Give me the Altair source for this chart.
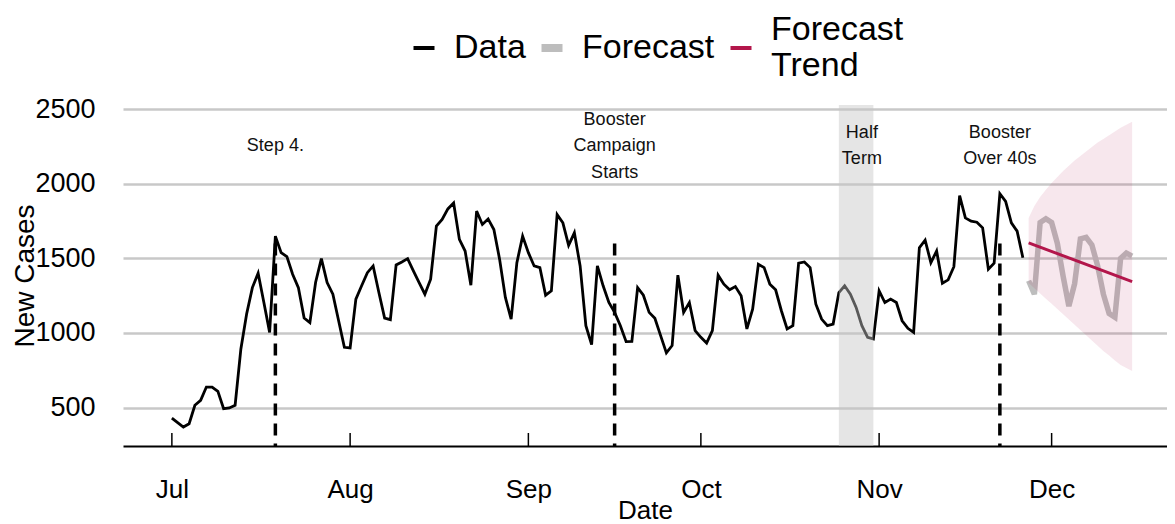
import altair as alt
import pandas as pd

# ---------------- data ----------------
data_start = "2021-07-01"
data_values = [
    430, 400, 370, 392, 516, 549, 638, 638, 609, 493,
    498, 516, 893, 1127, 1304, 1400, 1204, 1004, 1649, 1538,
    1511, 1393, 1304, 1100, 1069, 1340, 1498, 1338, 1260, 1082,
    904, 900, 1227, 1316, 1404, 1449, 1271, 1100, 1089, 1456,
    1476, 1498, 1416, 1338, 1260, 1360, 1716, 1760, 1831, 1871,
    1627, 1549, 1320, 1816, 1727, 1764, 1693, 1493, 1238, 1093,
    1471, 1649, 1538, 1449, 1438, 1253, 1282, 1793, 1738, 1587,
    1671, 1449, 1049, 922, 1449, 1316, 1204, 1138, 1049, 942,
    944, 1304, 1253, 1138, 1098, 982, 867, 916, 1387, 1138,
    1204, 1016, 971, 933, 1016, 1387, 1327, 1289, 1311, 1249,
    1027, 1160, 1460, 1438, 1327, 1289, 1149, 1027, 1049, 1467,
    1476, 1438, 1193, 1093, 1049, 1060, 1271, 1316, 1260, 1171,
    1049, 971, 960, 1282, 1204, 1227, 1204, 1082, 1031, 1004,
    1571, 1622, 1471, 1549, 1333, 1356, 1444, 1920, 1771, 1749,
    1742, 1704, 1427, 1467, 1933, 1882, 1738, 1682, 1504,
]

forecast_start = "2021-11-27"
forecast_values = [
    1350, 1260, 1740, 1765, 1740, 1600, 1380, 1180, 1330, 1630,
    1640, 1590, 1450, 1260, 1130, 1105, 1500, 1535, 1515,
]
ci_upper = [
    1770, 1850, 1910, 1960, 2005, 2045, 2085, 2120, 2155, 2185,
    2215, 2245, 2275, 2300, 2325, 2350, 2375, 2395, 2415,
]
ci_lower = [
    1335, 1300, 1265, 1230, 1195, 1160, 1125, 1090, 1055, 1020,
    985, 950, 915, 880, 850, 815, 785, 765, 745,
]

trend_dates = ["2021-11-27", "2021-12-15"]
trend_values = [1604, 1344]

event_dates = ["2021-07-19", "2021-09-16", "2021-11-22"]
event_top = [1600, 1600, 1600]

note_dates = ["2021-07-19", "2021-09-16", "2021-10-29", "2021-11-22"]
note_lines = [["Step 4."], ["Booster", "Campaign", "Starts"],
              ["Half", "Term"], ["Booster", "Over 40s"]]

half_term_start = ["2021-10-25"]
half_term_end = ["2021-10-31"]

month_ticks = ["2021-07-01", "2021-08-01", "2021-09-01",
               "2021-10-01", "2021-11-01", "2021-12-01"]
y_ticks = [500, 1000, 1500, 2000, 2500]

series_names = ["Data", "Forecast", "Forecast Trend"]
series_colors = ["#000000", "#bdbdbd", "#b3164b"]

# ---------------- tables ----------------
data_dates = pd.date_range(data_start, periods=len(data_values), freq="D").strftime("%Y-%m-%d")
fc_dates = pd.date_range(forecast_start, periods=len(forecast_values), freq="D").strftime("%Y-%m-%d")

data_df = pd.DataFrame({"date": data_dates, "value": data_values, "series": "Data"})
fc_df = pd.DataFrame({"date": fc_dates, "value": forecast_values, "series": "Forecast"})
trend_df = pd.DataFrame({"date": trend_dates, "value": trend_values, "series": "Forecast Trend"})
ci_df = pd.DataFrame({"date": fc_dates, "lo": ci_lower, "hi": ci_upper})
event_df = pd.DataFrame({"date": event_dates, "value": event_top})
note_df = pd.DataFrame({"date": note_dates, "lines": note_lines})
half_df = pd.DataFrame({"start": half_term_start, "end": half_term_end})
tick_df = pd.DataFrame({"date": month_ticks})

FONT = "Liberation Sans"
W, H = 1044, 341

x_scale = alt.Scale(
    type="utc",
    domain=[alt.DateTime(year=2021, month=6, date=22, hours=12, utc=True),
            alt.DateTime(year=2021, month=12, date=21, hours=1, minutes=34, utc=True)],
)
y_scale = alt.Scale(domain=[243, 2527], nice=False, zero=False)

x_axis = alt.Axis(
    values=[alt.DateTime(year=2021, month=m, date=1, utc=True) for m in range(7, 13)],
    format="%b", title="Date", grid=False, ticks=False, tickSize=0,
    domain=True, domainColor="black", domainWidth=2,
    labelFontSize=26, labelPadding=30, labelColor="black", labelFont=FONT,
    titleFontSize=26, titleFontWeight="normal", titleColor="black", titleFont=FONT,
    titleY=51, titleBaseline="top",
)
y_axis = alt.Axis(
    values=y_ticks, format="d", title="New Cases", grid=True, gridColor="#c8c8c8", gridWidth=2.5,
    domain=False, ticks=False, tickSize=0,
    labelFontSize=27, labelPadding=28, labelColor="black", labelFont=FONT,
    titleFontSize=28, titleFontWeight="normal", titleColor="black", titleFont=FONT,
    titleX=-90, titleBaseline="alphabetic",
)

color_scale = alt.Scale(domain=series_names, range=series_colors)
legend = alt.Legend(
    title=None, orient="none", direction="horizontal", legendX=284, legendY=-97,
    symbolType="stroke", symbolSize=441, labelFontSize=34, labelFont=FONT,
    labelColor="black", labelOffset=13, columnPadding=9, padding=0,
    labelLimit=400, clipHeight=80,
    symbolStrokeWidth={"expr": "datum.value == 'Forecast' ? 8 : 4"},
    labelBaseline={"expr": "datum.label == 'Forecast Trend' ? 'line-bottom' : 'middle'"},
    labelExpr="datum.label == 'Forecast Trend' ? ['Forecast', 'Trend'] : datum.label",
)

X = lambda f: alt.X(f, scale=x_scale)
Y = lambda f: alt.Y(f, scale=y_scale)

data_line = alt.Chart(data_df).mark_line(strokeWidth=2.8).encode(
    x=alt.X("date:T", scale=x_scale, axis=x_axis),
    y=alt.Y("value:Q", scale=y_scale, axis=y_axis),
    color=alt.Color("series:N", scale=color_scale, legend=legend),
)

fc_line = alt.Chart(fc_df).mark_line(strokeWidth=5.5).encode(
    x=X("date:T"), y=Y("value:Q"),
    color=alt.Color("series:N", scale=color_scale, legend=legend),
)

ci = alt.Chart(ci_df).mark_area(color="#b3164b", opacity=0.1).encode(
    x=X("date:T"), y=Y("lo:Q"), y2="hi:Q",
)

trend = alt.Chart(trend_df).mark_line(strokeWidth=3).encode(
    x=X("date:T"), y=Y("value:Q"),
    color=alt.Color("series:N", scale=color_scale, legend=legend),
)

half = alt.Chart(half_df).mark_rect(color="#c5c5c5", opacity=0.45).encode(
    x=X("start:T"), x2="end:T",
    y=alt.value(0), y2=alt.value(H),
)

events = alt.Chart(event_df).mark_rule(color="black", strokeWidth=3.5, strokeDash=[12, 8]).encode(
    x=X("date:T"), y=Y("value:Q"), y2=alt.value(H),
)

ticks = alt.Chart(tick_df).mark_rule(color="black", strokeWidth=1.5).encode(
    x=X("date:T"), y=alt.value(H - 13), y2=alt.value(H),
)

notes = alt.Chart(note_df).transform_calculate(
    ypix="41 - (length(datum.lines) - 1) * 13.25"
).mark_text(
    font=FONT, fontSize=18, lineHeight=26.5, baseline="middle", align="center", color="#111111"
).encode(
    x=X("date:T"),
    y=alt.Y("ypix:Q", scale=None, axis=None),
    text="lines:N",
)

chart = alt.layer(data_line, fc_line, ci, trend, half, events, ticks, notes).properties(
    width=W, height=H,
    autosize=alt.AutoSizeParams(type="none"),
    padding={"left": 115, "top": 97, "right": 0, "bottom": 80},
).configure(font=FONT).configure_view(stroke=None)

chart.save("out.html", embed_options={"renderer": "svg", "actions": False})
